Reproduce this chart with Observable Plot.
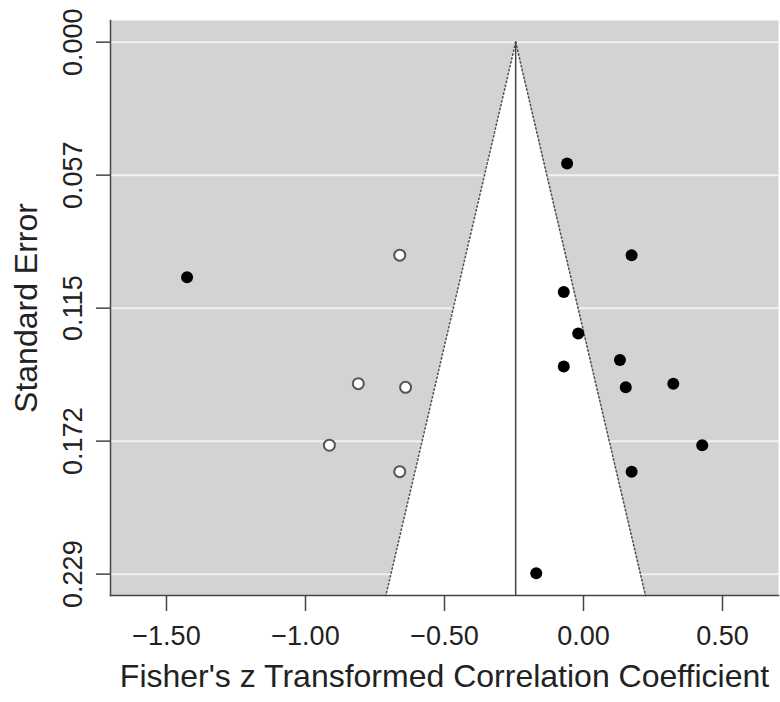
<!DOCTYPE html>
<html>
<head>
<meta charset="utf-8">
<script src="https://cdn.jsdelivr.net/npm/d3@7"></script>
<script src="https://cdn.jsdelivr.net/npm/@observablehq/plot@0.6"></script>
<style>
  html, body { margin: 0; padding: 0; background: #fff; }
  svg { display: block; }
</style>
</head>
<body>
<div id="chart"></div>
<script>
// Observed studies (Fisher's z, standard error)
const observedZ  = [-0.059, 0.173, -1.426, -0.071, -0.019, 0.131, -0.071, 0.323, 0.152, 0.427, 0.173, -0.170];
const observedSE = [0.0522, 0.0917, 0.1012, 0.1076, 0.1254, 0.1368, 0.1396, 0.1470, 0.1486, 0.1735, 0.1849, 0.2286];
// Imputed (trim-and-fill) studies
const filledZ  = [-0.661, -0.810, -0.640, -0.914, -0.661];
const filledSE = [0.0917, 0.1470, 0.1486, 0.1735, 0.1849];
// Summary estimate and funnel extent
const summaryZ = -0.244;
const funnelSE = [0, 0.2382];
// Axis ticks
const xTicks = [-1.5, -1.0, -0.5, 0.0, 0.5];
const xTickLabels = ["\u22121.50", "\u22121.00", "\u22120.50", "0.00", "0.50"];
const yTicks = [0, 0.05725, 0.1145, 0.17175, 0.229];
const yTickLabels = ["0.000", "0.057", "0.115", "0.172", "0.229"];

const observed = observedZ.map((z, i) => ({z, se: observedSE[i]}));
const filled = filledZ.map((z, i) => ({z, se: filledSE[i]}));
const funnel = funnelSE.map(se => ({se, lo: summaryZ - 1.96 * se, hi: summaryZ + 1.96 * se}));

const chart = Plot.plot({
  width: 780,
  height: 702,
  marginLeft: 110,
  marginRight: 2,
  marginTop: 20,
  marginBottom: 107,
  style: {fontFamily: "'Liberation Sans', Arial, Helvetica, sans-serif", background: "#fff"},
  x: {domain: [-1.7014, 0.7014]},
  y: {domain: [-0.00932, 0.2382], reverse: true},
  marks: [
    Plot.frame({fill: "#d3d3d3", stroke: "none"}),
    Plot.ruleY(yTicks, {stroke: "#f2f2f2", strokeWidth: 2}),
    Plot.areaX(funnel, {y: "se", x1: "lo", x2: "hi", fill: "#ffffff", curve: "linear"}),
    Plot.line(funnel, {x: "lo", y: "se", stroke: "#555", strokeWidth: 1.6, strokeDasharray: "1.4,2.6"}),
    Plot.line(funnel, {x: "hi", y: "se", stroke: "#555", strokeWidth: 1.6, strokeDasharray: "1.4,2.6"}),
    Plot.ruleX([summaryZ], {y1: funnelSE[0], y2: funnelSE[1], stroke: "#444", strokeWidth: 1.5}),
    Plot.dot(filled, {x: "z", y: "se", r: 5.5, fill: "#ffffff", stroke: "#555", strokeWidth: 2}),
    Plot.dot(observed, {x: "z", y: "se", r: 6, fill: "#000", stroke: "none"}),
    Plot.frame({anchor: "left", stroke: "#444", strokeWidth: 1.5}),
    Plot.frame({anchor: "bottom", stroke: "#444", strokeWidth: 1.5}),
    Plot.axisX({ticks: xTicks, tickSize: 16, tickPadding: 14, fontSize: 27, stroke: "#444", strokeWidth: 1.5,
      color: "#222", tickFormat: (d, i) => xTickLabels[i], label: null}),
    Plot.axisY({ticks: yTicks, tickSize: 14, stroke: "#444", strokeWidth: 1.5, tickFormat: () => "", label: null}),
    Plot.text(yTicks, {y: d => d, text: (d, i) => yTickLabels[i], frameAnchor: "left", dx: -37,
      rotate: -90, textAnchor: "middle", lineAnchor: "middle", fontSize: 27, fill: "#222"}),
    Plot.text(["Fisher's z Transformed Correlation Coefficient"], {frameAnchor: "bottom", dy: 81,
      fontSize: 32, fill: "#222", textAnchor: "middle", lineAnchor: "middle"}),
    Plot.text(["Standard Error"], {frameAnchor: "left", dx: -84, rotate: -90, fontSize: 32,
      fill: "#222", textAnchor: "middle", lineAnchor: "middle"})
  ]
});
document.getElementById("chart").appendChild(chart);
</script>
</body>
</html>
